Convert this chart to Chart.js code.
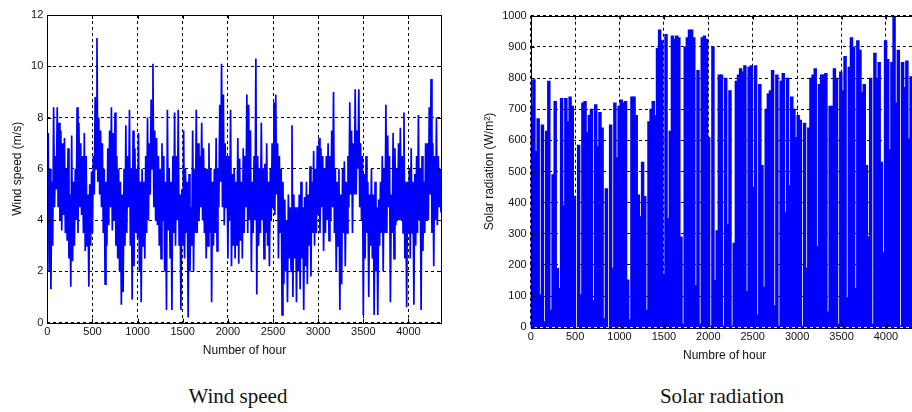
<!DOCTYPE html>
<html><head><meta charset="utf-8">
<script src="https://cdn.jsdelivr.net/npm/chart.js@4.4.1/dist/chart.umd.min.js"></script>
<style>
html,body{margin:0;padding:0;width:912px;height:412px;overflow:hidden;background:#fff;}
#wrapA{position:absolute;left:0;top:0;width:456px;height:370px;}
#wrapB{position:absolute;left:460px;top:0;width:460px;height:370px;}
.cap{position:absolute;top:384px;font-family:"Liberation Serif","Times New Roman",serif;font-size:21px;color:#111;transform:translateX(-50%);white-space:nowrap;}
</style></head><body>
<div id="wrapA"><canvas id="cA"></canvas></div>
<div id="wrapB"><canvas id="cB"></canvas></div>
<div class="cap" style="left:238px">Wind speed</div>
<div class="cap" style="left:722px">Solar radiation</div>
<script>
// ---- data ----
const HOURS_MAX = 4368;           // 182 days
const windStepHours = 10;         // one reading per 10 h
const windSpeed = [
 4.7,7.4,2.0,6.0,1.3,5.5,3.0,8.4,4.5,6.5,
 5.2,8.4,4.5,7.8,4.0,7.5,3.6,7.0,4.2,7.2,
 3.5,6.0,3.2,6.8,2.5,5.0,1.4,7.3,2.4,5.5,
 3.0,6.0,4.0,8.4,3.5,7.8,4.5,7.0,4.2,6.5,
 3.5,7.4,2.8,6.5,3.0,5.0,1.4,5.4,3.0,5.9,
 3.5,6.5,5.0,8.8,6.0,11.1,5.5,8.0,5.0,7.5,
 4.5,7.0,3.5,6.0,1.5,5.5,3.0,6.8,3.8,7.5,
 4.5,8.4,3.6,7.4,4.0,8.2,3.0,6.5,2.5,6.0,
 2.0,5.5,0.7,5.0,1.2,6.0,3.0,7.7,3.5,6.5,
 4.5,8.3,3.0,6.0,0.9,7.5,2.2,6.8,3.5,6.0,
 3.3,7.4,2.0,5.5,0.8,6.0,3.0,5.5,2.5,6.5,
 3.5,8.0,4.0,7.0,5.0,8.7,6.0,10.1,4.5,7.5,
 4.0,7.2,3.8,6.5,3.0,6.0,2.5,7.0,4.0,6.5,
 2.0,5.5,0.5,8.3,3.6,6.0,2.5,5.5,0.5,6.5,
 3.5,8.2,3.0,6.5,4.0,8.3,3.0,5.0,0.5,5.2,
 3.0,7.5,2.5,6.0,3.5,5.5,0.2,5.8,2.0,4.5,
 3.0,7.5,2.0,6.0,3.5,8.3,3.5,7.0,4.0,6.5,
 4.5,7.8,4.0,6.8,3.5,6.0,2.5,6.0,3.0,7.0,
 3.5,6.0,0.8,5.5,3.0,6.0,3.5,7.2,2.8,6.0,
 4.5,8.5,5.5,10.1,4.5,8.9,3.8,7.0,4.5,6.5,
 2.5,6.5,4.0,8.3,2.2,5.8,3.0,6.0,2.5,5.5,
 3.0,7.2,2.3,6.4,3.2,5.5,2.5,6.8,3.5,6.5,
 4.5,8.9,3.5,8.5,4.0,7.5,2.0,5.5,3.5,6.5,
 4.0,10.3,1.1,6.5,3.0,6.0,3.5,7.8,4.0,6.0,
 2.5,6.2,3.5,7.0,3.0,5.5,2.2,6.0,4.0,7.0,
 4.5,8.6,4.2,8.9,5.0,7.0,2.5,6.5,3.5,6.0,
 0.3,5.5,1.5,4.8,2.0,4.0,0.8,5.0,2.5,4.5,
 2.0,7.7,1.0,5.0,2.5,4.5,0.8,4.5,2.0,5.0,
 1.3,5.5,2.5,4.5,0.5,4.9,2.2,5.5,1.5,5.0,
 3.0,6.1,1.8,5.5,3.5,6.7,3.0,6.0,3.5,6.9,
 4.2,7.2,3.5,6.8,4.5,6.5,2.8,6.0,3.5,6.5,
 4.0,7.0,3.2,6.5,4.0,7.5,4.5,9.0,3.5,6.0,
 2.0,5.5,3.0,6.0,0.5,5.0,1.5,6.0,3.5,6.3,
 2.2,5.5,3.5,6.5,4.5,8.6,5.0,7.5,3.5,7.0,
 5.0,9.1,5.0,7.5,6.0,9.1,4.5,7.0,4.0,6.5,
 0.3,5.8,2.5,6.5,3.5,5.5,1.0,5.0,3.0,6.0,
 2.5,5.0,0.3,5.5,2.0,4.5,0.3,4.8,3.0,5.5,
 3.5,6.5,2.0,6.0,3.5,8.5,3.5,7.3,4.5,6.5,
 0.8,5.0,3.5,7.4,2.5,6.8,3.8,6.0,4.0,7.0,
 4.0,7.6,4.0,6.5,3.5,8.2,2.5,5.5,0.6,5.5,
 3.5,6.0,2.5,6.8,3.5,5.5,0.7,5.8,3.0,6.5,
 3.5,8.1,4.0,6.0,0.5,6.5,2.8,5.5,3.5,7.0,
 4.0,7.0,4.0,8.4,5.0,9.5,3.5,7.0,2.2,6.5,
 4.0,8.0,3.8,6.5,4.5,6.0,4.3
];
const solarDayPeak = [
 710,795,565,670,104,650,18,630,790,55,
 490,725,189,125,735,392,735,660,740,710,
 420,0,585,105,720,725,625,680,700,85,
 715,580,690,640,28,445,0,650,190,720,
 545,710,730,720,725,152,24,740,740,680,
 425,355,530,420,55,660,700,725,680,895,
 955,920,170,940,350,630,935,925,935,930,
 290,10,900,930,955,955,930,135,825,10,
 930,935,925,610,5,900,150,310,810,810,
 5,800,330,760,5,270,790,810,830,820,
 840,115,835,840,450,840,40,780,520,130,
 700,750,760,825,70,810,5,790,815,370,
 800,455,740,700,610,680,665,5,655,190,
 640,800,810,830,260,780,810,810,815,50,
 710,710,830,800,10,820,760,870,95,835,
 930,900,125,920,890,755,780,520,290,800,
 10,880,800,850,530,240,920,860,570,850,
 1000,720,890,5,850,770,855,605,805,800,
 800,790
];
const xTickValues = [0,500,1000,1500,2000,2500,3000,3500,4000];
const windYTickValues = [0,2,4,6,8,10,12];
const solarYTickValues = [0,100,200,300,400,500,600,700,800,900,1000];

// ---- helpers ----
const BLUE = '#0000ff';
const tickFont = {family:'"Liberation Sans", Arial, sans-serif', size:11};
const titleFont = {family:'"Liberation Sans", Arial, sans-serif', size:12};

const boxPlugin = {
  id:'box',
  afterDatasetsDraw(chart){
    const {ctx, chartArea:a, scales} = chart;
    ctx.save();
    ctx.strokeStyle='#000'; ctx.lineWidth=1;
    ctx.beginPath();
    const L=4;
    scales.x.ticks.forEach(t=>{const p=Math.round(scales.x.getPixelForValue(t.value))+0.5;
      ctx.moveTo(p,a.bottom);ctx.lineTo(p,a.bottom-L);ctx.moveTo(p,a.top);ctx.lineTo(p,a.top+L);});
    scales.y.ticks.forEach(t=>{const p=Math.round(scales.y.getPixelForValue(t.value))+0.5;
      ctx.moveTo(a.left,p);ctx.lineTo(a.left+L,p);ctx.moveTo(a.right,p);ctx.lineTo(a.right-L,p);});
    ctx.stroke();
    ctx.strokeRect(Math.round(a.left)+0.5,Math.round(a.top)+0.5,Math.round(a.right-a.left),Math.round(a.bottom-a.top));
    ctx.restore();
  }
};

function fixedTicks(vals){ return function(s){ s.ticks = vals.map(v=>({value:v})); }; }

function makeScales(yVals, yTitle, xTitle, yWidth, xHeight, yTitlePad, xTitlePad){
  return {
    x:{type:'linear',min:0,max:HOURS_MAX,offset:false,
      afterFit(s){s.height=xHeight;},
      afterBuildTicks:fixedTicks(xTickValues),
      ticks:{autoSkip:false,maxRotation:0,padding:3,color:'#111',font:tickFont,callback:v=>String(v)},
      grid:{color:'#000',lineWidth:1,drawTicks:false,offset:false},
      border:{display:false,dash:[3,3]},
      title:{display:true,text:xTitle,color:'#111',font:titleFont,padding:{top:0,bottom:xTitlePad}}},
    y:{type:'linear',min:yVals[0],max:yVals[yVals.length-1],
      afterFit(s){s.width=yWidth;},
      afterBuildTicks:fixedTicks(yVals),
      ticks:{autoSkip:false,padding:4,color:'#111',font:tickFont,callback:v=>String(v)},
      grid:{color:'#000',lineWidth:1,drawTicks:false},
      border:{display:false,dash:[3,3]},
      title:{display:true,text:yTitle,color:'#111',font:titleFont,padding:{top:yTitlePad,bottom:0}}}
  };
}

new Chart(document.getElementById('cA'),{
  type:'line',
  data:{datasets:[{data:windSpeed.map((v,i)=>({x:i*windStepHours,y:v})),
    borderColor:BLUE,borderWidth:1.7,pointRadius:0,tension:0,fill:false}]},
  options:{responsive:true,maintainAspectRatio:false,animation:false,
    layout:{padding:{top:15,right:14.3,left:0,bottom:0}},
    plugins:{legend:{display:false},tooltip:{enabled:false}},
    scales:makeScales(windYTickValues,'Wind speed (m/s)','Number of hour',47.3,47.3,10.8,11.8)},
  plugins:[boxPlugin]
});

new Chart(document.getElementById('cB'),{
  type:'bar',
  data:{datasets:[{data:solarDayPeak.map((v,i)=>({x:i*24+12,y:v})),
    backgroundColor:BLUE,borderWidth:0,barThickness:2.8,grouped:false}]},
  options:{responsive:true,maintainAspectRatio:false,animation:false,
    layout:{padding:{top:15.7,right:1.4,left:0,bottom:0}},
    plugins:{legend:{display:false},tooltip:{enabled:false}},
    scales:makeScales(solarYTickValues,'Solar radiation (W/m\u00b2)','Numbre of hour',70.7,42.7,22.8,7.1)},
  plugins:[boxPlugin]
});
</script>
</body></html>
